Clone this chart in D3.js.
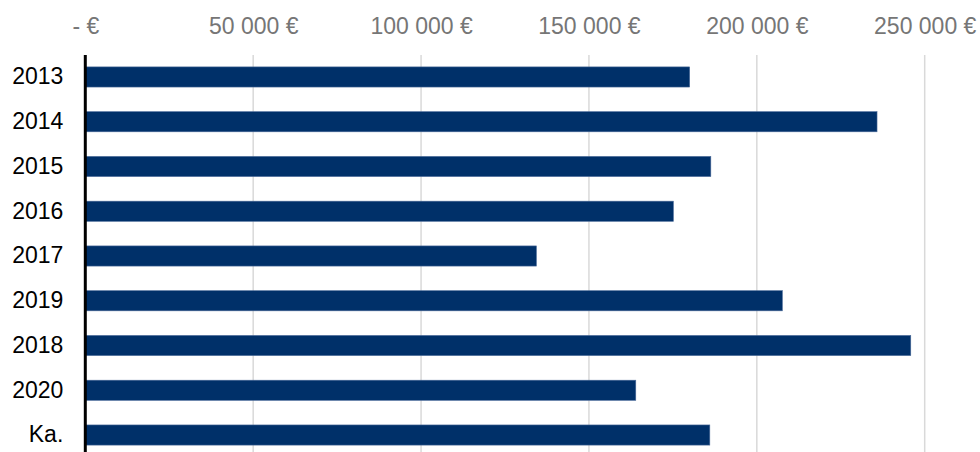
<!DOCTYPE html>
<html>
<head>
<meta charset="utf-8">
<script src="https://cdn.jsdelivr.net/npm/d3@7"></script>
<style>
  body { margin: 0; background: #fff; }
  svg text { font-family: "Liberation Sans", Arial, sans-serif; }
</style>
</head>
<body>
<div id="chart"></div>
<script>
let width = 980,
    height = 452

// data
let categories = ["2013", "2014", "2015", "2016", "2017", "2019", "2018", "2020", "Ka."]
let values = [180000, 235800, 186300, 175150, 134350, 207600, 245850, 163950, 186000]
let tickValues = [0, 50000, 100000, 150000, 200000, 250000]

let xLeft = 85.3,
    xRight = 924.7,
    plotTop = 55

let xScale = d3.scaleLinear()
    .domain([0, 250000])
    .range([xLeft, xRight])

let yScale = d3.scaleBand()
    .domain(categories)
    .range([54.6, 457.4])
    .paddingInner(0.55)
    .paddingOuter(0.275)

function fmt(v) {
    if (v === 0) return "- €"
    return d3.format(",")(v).replace(/,/g, " ") + " €"
}

let svg = d3.select("#chart")
    .append("svg")
    .attr("width", width)
    .attr("height", height)

// gridlines
svg.append("g")
    .selectAll("line")
    .data(tickValues.slice(1))
    .enter()
    .append("line")
    .attr("x1", d => xScale(d))
    .attr("x2", d => xScale(d))
    .attr("y1", plotTop)
    .attr("y2", height)
    .attr("stroke", "#d9d9d9")
    .attr("stroke-width", 1.5)

// top axis labels
let xAxis = d3.axisTop(xScale)
    .tickValues(tickValues)
    .tickFormat(fmt)
    .tickSize(0)
    .tickPadding(0)

let gx = svg.append("g")
    .attr("transform", "translate(0,34)")
    .attr("font-size", 23)
    .call(xAxis)
gx.select(".domain").remove()
gx.selectAll("text")
    .attr("fill", "#767676")
    .style("font-size", "23px")
    .attr("dy", 0)

// bars
svg.append("g")
    .selectAll("rect")
    .data(values)
    .enter()
    .append("rect")
    .attr("x", xScale(0))
    .attr("y", (d, i) => yScale(categories[i]))
    .attr("width", d => xScale(d) - xScale(0))
    .attr("height", yScale.bandwidth())
    .attr("fill", "#003069")
    .attr("stroke", "#4a6a99")
    .attr("stroke-width", 0.6)

// y axis
let yAxis = d3.axisLeft(yScale)
    .tickSize(0)
    .tickPadding(22)

let gy = svg.append("g")
    .attr("transform", "translate(" + xLeft + ",0)")
    .attr("font-size", 23)
    .call(yAxis)
gy.select(".domain").remove()
gy.selectAll("text")
    .attr("fill", "#000")
    .style("font-size", "23px")

svg.append("line")
    .attr("x1", xLeft)
    .attr("x2", xLeft)
    .attr("y1", plotTop)
    .attr("y2", height)
    .attr("stroke", "#000")
    .attr("stroke-width", 3)
</script>
</body>
</html>
